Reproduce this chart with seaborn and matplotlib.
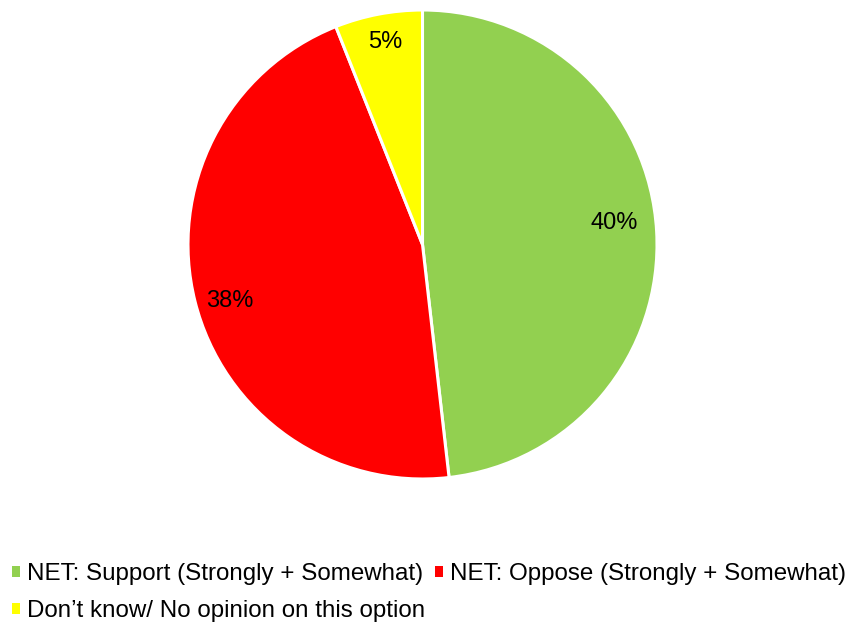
import matplotlib
matplotlib.use("Agg")
import matplotlib.pyplot as plt
import seaborn as sns
from matplotlib.patches import Patch

categories = [
    "NET: Support (Strongly + Somewhat)",
    "NET: Oppose (Strongly + Somewhat)",
    "Don\u2019t know/ No opinion on this option",
]
values = [40, 38, 5]
labels = ["40%", "38%", "5%"]
colors = sns.color_palette(["#92D050", "#FF0000", "#FFFF00"])

sns.set_theme(style="white")
plt.rcParams["font.family"] = ["Liberation Sans", "DejaVu Sans"]

W, H = 846, 624
fig = plt.figure(figsize=(W / 100, H / 100), dpi=100)
cx, cy, r = 422.5, 244.5, 234.5
ax = fig.add_axes([(cx - r) / W, (H - cy - r) / H, 2 * r / W, 2 * r / H])

wedges, texts, autotexts = ax.pie(
    values,
    colors=colors,
    startangle=90,
    counterclock=False,
    labels=None,
    autopct=lambda p: "",
    pctdistance=0.83,
    wedgeprops=dict(edgecolor="white", linewidth=2.2),
)
# data label placement inside each slice (unit-radius coordinates)
label_pos = [(0.817, 0.092), (-0.821, -0.241), (-0.160, 0.864)]
for t, lab, pos in zip(autotexts, labels, label_pos):
    t.set_text(lab)
    t.set_fontsize(17)
    t.set_color("black")
    t.set_position(pos)
ax.set_xlim(-1, 1)
ax.set_ylim(-1, 1)
ax.set_aspect("equal")
ax.axis("off")

# legend fills column by column, so order entries to read across rows
order = [0, 2, 1]
handles = [Patch(facecolor=colors[i], edgecolor="none") for i in order]
leg = fig.legend(
    handles,
    [categories[i] for i in order],
    loc="upper left",
    bbox_to_anchor=(0.0, 1 - 551 / H),
    ncol=2,
    frameon=False,
    fontsize=17.4,
    handlelength=0.33,
    handleheight=0.33,
    handletextpad=0.3,
    columnspacing=0.4,
    labelspacing=0.62,
    borderaxespad=0.3,
    borderpad=0.2,
)
for txt in leg.get_texts():
    txt.set_color("black")

fig.savefig("out.png", dpi=100, facecolor="white")
